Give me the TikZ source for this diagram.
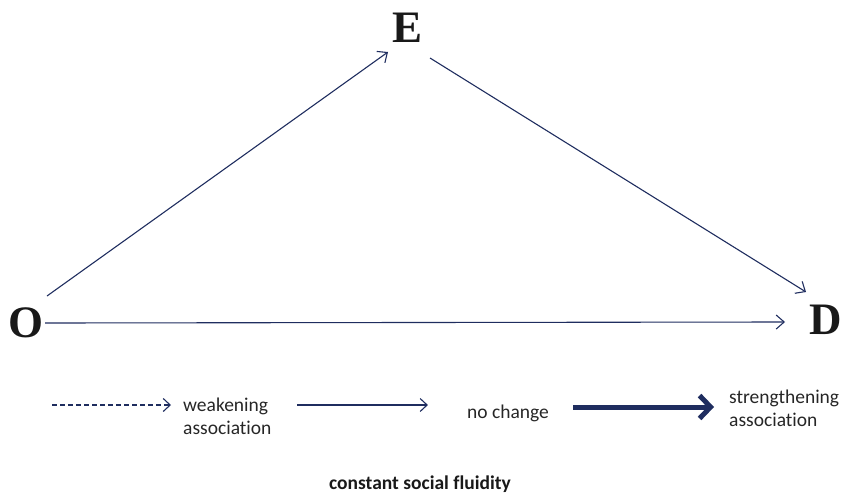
\documentclass[tikz,border=0pt]{standalone}
\usepackage{fontspec}
\setmainfont{Carlito}[Ligatures=NoCommon]
\newfontfamily\letterfont{Liberation Serif}
\usetikzlibrary{arrows.meta}
\definecolor{navy}{RGB}{31,45,95}
\begin{document}
\begin{tikzpicture}[x=1pt,y=-1pt,
  letter/.style={font=\letterfont\bfseries\fontsize{45}{45}\selectfont, inner sep=0pt, text=black!90},
  conn/.style={draw=navy, line width=1.1pt, -{Straight Barb[length=8pt,width=14pt]}},
  legtext/.style={font=\fontsize{19.5}{23}\selectfont, align=left, inner sep=0pt, text=black!85},
  thinarrow/.style={draw=navy, line width=1.1pt, -{Straight Barb[length=7pt,width=13pt]}},
  thickarrow/.style={draw=navy, line width=5pt, -{Straight Barb[length=11pt,width=23pt,line width=5pt]}}
]
\useasboundingbox (0,0) rectangle (842,495);
\node[letter] (E) at (408,28) {E};
\node[letter] (O) at (26,323) {O};
\node[letter] (D) at (826,320) {D};
\draw[conn] ([shift={(21,-27)}]O.center) -- ([shift={(-20,24)}]E.center);
\draw[conn] ([shift={(22,30)}]E.center) -- ([shift={(-20,-28)}]D.center);
\draw[conn] ([shift={(19,0)}]O.center) -- ([shift={(-41,2)}]D.center);
% legend
\node[legtext, anchor=west] (weak) at (183,416) {weakening\\association};
\node[legtext] (nochg) at (508,413) {no change};
\node[legtext, anchor=west] (strong) at (729,408) {strengthening\\association};
\coordinate (dstart) at (52,405);
\coordinate (sstart) at (297,405);
\coordinate (tstart) at (573,407);
\draw[thinarrow, dash pattern=on 5pt off 3pt] (dstart) -- ([shift={(-12,-11)}]weak.west);
\draw[thinarrow] (sstart) -- ([shift={(-39,-8)}]nochg.west);
\draw[thickarrow] (tstart) -- ([shift={(-15,-1)}]strong.west);
\node[font=\bfseries\fontsize{19.5}{19.5}\selectfont, text=black!90] (title) at (420,484) {constant social fluidity};
\end{tikzpicture}
\end{document}
